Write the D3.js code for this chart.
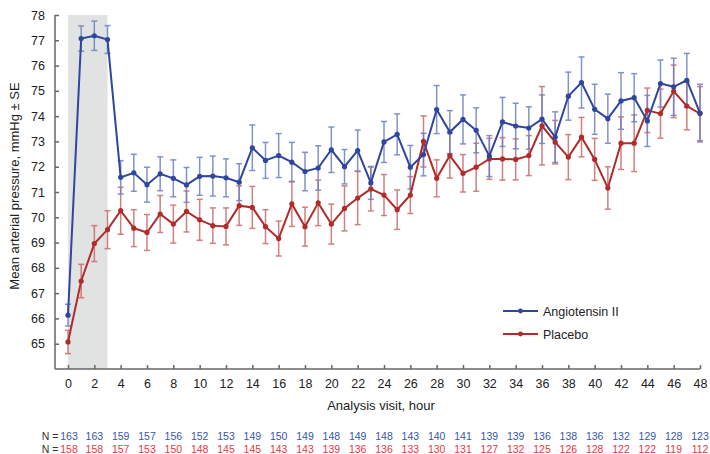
<!DOCTYPE html>
<html>
<head>
<meta charset="utf-8">
<script src="https://cdn.jsdelivr.net/npm/d3@7"></script>
<style>
  body { margin: 0; background: #fff; }
  svg text { font-family: "Liberation Sans", Arial, Helvetica, sans-serif; }
  .axis path, .axis line { stroke: #666; stroke-width: 1.5; }
</style>
</head>
<body>
<svg width="710" height="454"></svg>
<script>
var hours = [0,1,2,3,4,5,6,7,8,9,10,11,12,13,14,15,16,17,18,19,20,21,22,23,24,
  25,26,27,28,29,30,31,32,33,34,35,36,37,38,39,40,41,42,43,44,45,46,47,48];

var angMean = [66.13,77.07,77.18,77.03,71.58,71.76,71.29,71.72,71.54,71.28,
  71.62,71.63,71.56,71.39,72.75,72.25,72.44,72.18,71.81,71.95,
  72.67,72.00,72.64,71.36,72.98,73.28,71.98,72.48,74.26,73.37,
  73.87,73.44,72.42,73.77,73.61,73.53,73.88,73.17,74.79,75.33,
  74.27,73.90,74.60,74.73,73.81,75.29,75.16,75.42,74.12];
var angSE = [0.43,0.50,0.58,0.55,0.66,0.73,0.69,0.67,0.73,0.69,
  0.75,0.79,0.75,0.73,0.90,0.71,0.87,0.78,0.76,0.88,
  0.90,0.68,0.81,0.65,0.81,0.81,0.86,0.84,0.95,0.85,
  0.97,0.89,0.81,0.97,0.90,0.84,0.96,1.00,0.95,1.01,
  0.99,0.97,1.12,0.95,1.01,0.93,1.13,1.06,1.14];

var placMean = [65.07,67.48,68.96,69.51,70.26,69.57,69.40,70.13,69.73,70.23,
  69.90,69.67,69.64,70.46,70.39,69.63,69.16,70.53,69.63,70.57,
  69.73,70.35,70.76,71.12,70.88,70.30,70.88,73.00,71.54,72.44,
  71.74,71.98,72.31,72.31,72.29,72.44,73.62,72.97,72.38,73.17,
  72.29,71.16,72.93,72.93,74.23,74.10,74.98,74.40,74.10];
var placSE = [0.46,0.66,0.71,0.75,0.93,0.73,0.71,0.73,0.75,0.81,
  0.81,0.70,0.73,0.78,0.83,0.67,0.69,0.89,0.77,0.90,
  0.79,0.89,1.05,0.87,0.81,0.78,0.73,1.01,0.73,0.89,
  0.74,0.95,0.81,0.84,0.81,0.79,1.55,0.86,0.89,0.78,
  0.83,0.84,1.04,1.12,0.88,0.97,1.04,0.94,1.07];

var nHours = [0,2,4,6,8,10,12,14,16,18,20,22,24,26,28,30,32,34,36,38,40,42,44,46,48];
var angN = [163,163,159,157,156,152,153,149,150,149,148,149,148,143,140,141,139,139,136,138,136,132,129,128,123];
var placN = [158,158,157,153,150,148,145,145,143,143,139,136,136,133,130,131,127,132,125,126,128,122,122,119,112];

var yTicks = [65,66,67,68,69,70,71,72,73,74,75,76,77,78];
var xTicks = [0,2,4,6,8,10,12,14,16,18,20,22,24,26,28,30,32,34,36,38,40,42,44,46,48];
var infusionEnd = 3;

var svg = d3.select('svg');

var x = d3.scaleLinear().domain([0, 48]).range([68, 700]);
var y = d3.scaleLinear().domain([64, 78]).range([369, 15]);

// shaded infusion period
svg.append('rect')
  .attr('x', x(0)).attr('y', y(78))
  .attr('width', x(infusionEnd) - x(0))
  .attr('height', y(64) - y(78))
  .attr('fill', '#e1e2e2');

// axes
var yAxis = svg.append('g').attr('class', 'axis')
  .attr('transform', 'translate(55,0)')
  .call(d3.axisLeft(y).tickValues(yTicks).tickSizeInner(-4).tickSizeOuter(0).tickPadding(10));
var xAxis = svg.append('g').attr('class', 'axis')
  .attr('transform', 'translate(0,369)')
  .call(d3.axisBottom(x).tickValues(xTicks).tickSizeInner(-4).tickSizeOuter(0).tickPadding(10));
xAxis.select('.domain').attr('d', 'M55,0H' + x(48));
yAxis.select('.domain').attr('d', 'M0,' + y(64) + 'V' + y(78));
svg.selectAll('.axis text').style('font-size', '12.5px').style('fill', '#222');

var series = [
  { name: 'Placebo', mean: placMean, se: placSE, line: '#b12b2b', bar: '#c96a6a' },
  { name: 'Angiotensin II', mean: angMean, se: angSE, line: '#2f469e', bar: '#6b80c4' }
];

series.forEach(function(s) {
  var g = svg.append('g').attr('opacity', 0.85);
  hours.forEach(function(h, i) {
    var lo = y(s.mean[i] - s.se[i]), hi = y(s.mean[i] + s.se[i]);
    g.append('line').attr('x1', x(h)).attr('x2', x(h)).attr('y1', lo).attr('y2', hi)
      .attr('stroke', s.bar).attr('stroke-width', 1.5);
    [lo, hi].forEach(function(v) {
      g.append('line').attr('x1', x(h) - 3).attr('x2', x(h) + 3).attr('y1', v).attr('y2', v)
        .attr('stroke', s.bar).attr('stroke-width', 1.5);
    });
  });
});

var line = d3.line();
series.forEach(function(s) {
  var pts = hours.map(function(h, i) { return [x(h), y(s.mean[i])]; });
  svg.append('path').attr('d', line(pts)).attr('fill', 'none')
    .attr('stroke', s.line).attr('stroke-width', 2);
  svg.selectAll(null).data(pts).enter().append('circle')
    .attr('cx', function(d) { return d[0]; }).attr('cy', function(d) { return d[1]; })
    .attr('r', 2.6).attr('fill', s.line);
});

// legend
var legend = [series[1], series[0]];
legend.forEach(function(s, i) {
  var ly = 311 + i * 23;
  svg.append('line').attr('x1', 503).attr('x2', 538).attr('y1', ly).attr('y2', ly)
    .attr('stroke', s.line).attr('stroke-width', 2);
  svg.append('circle').attr('cx', 520.5).attr('cy', ly).attr('r', 2.4).attr('fill', s.line);
  svg.append('text').attr('x', 543).attr('y', ly + 4.5).style('font-size', '12.5px')
    .style('fill', '#222').text(s.name);
});

// axis titles
svg.append('text').attr('x', 381).attr('y', 410).attr('text-anchor', 'middle')
  .style('font-size', '13px').style('fill', '#222').text('Analysis visit, hour');
svg.append('text').attr('transform', 'translate(19,186) rotate(-90)')
  .attr('text-anchor', 'middle').style('font-size', '13px').style('fill', '#222')
  .text('Mean arterial pressure, mmHg \u00b1 SE');

// number at risk
[[angN, '#3656ab', 440], [placN, '#e23a3e', 452.5]].forEach(function(r) {
  svg.append('text').attr('x', 58.5).attr('y', r[2]).attr('text-anchor', 'end')
    .style('font-size', '10.5px').style('fill', '#333').text('N =');
  svg.selectAll(null).data(r[0]).enter().append('text')
    .attr('x', function(d, i) { return x(nHours[i]) + (i === 0 ? 1 : 0); })
    .attr('y', r[2]).attr('text-anchor', 'middle')
    .style('font-size', '10.5px').style('fill', r[1])
    .text(function(d) { return d; });
});
</script>
</body>
</html>
